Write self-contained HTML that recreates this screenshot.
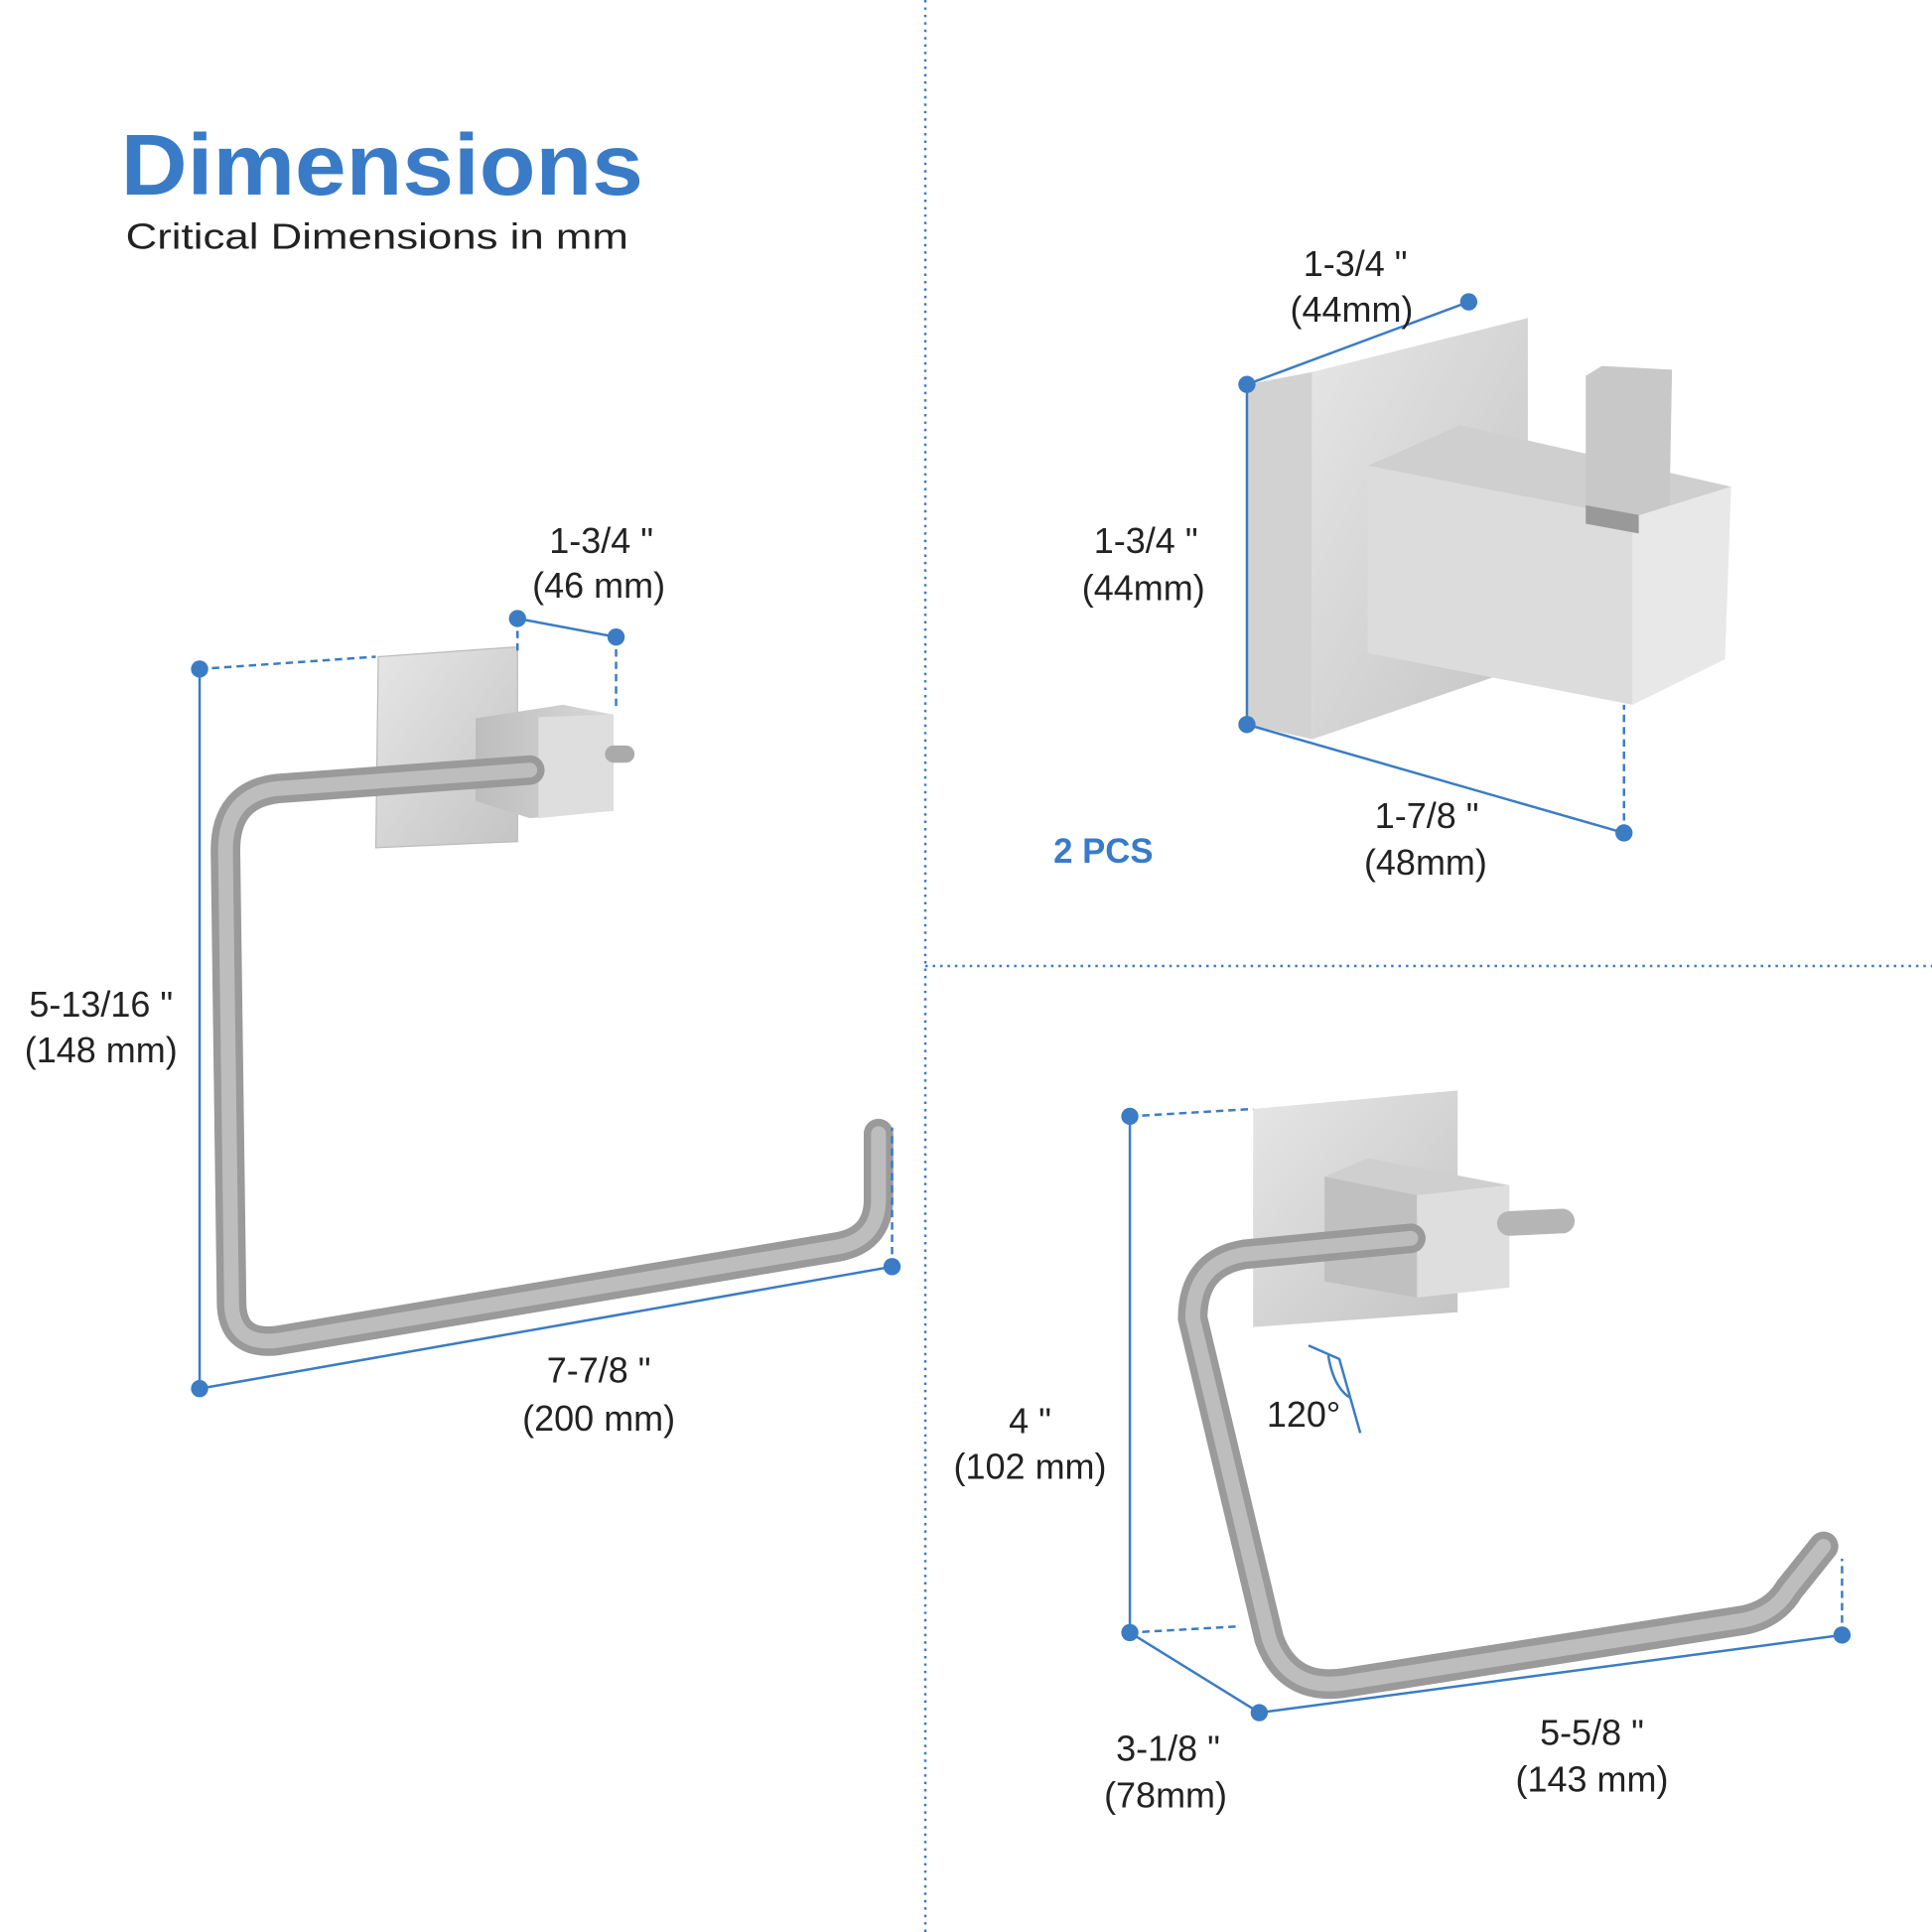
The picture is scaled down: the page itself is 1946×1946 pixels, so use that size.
<!DOCTYPE html>
<html><head><style>html,body{margin:0;padding:0;background:#fff}svg{display:block}</style></head>
<body>
<svg width="1946" height="1946" viewBox="0 0 1568 1568" xmlns="http://www.w3.org/2000/svg" font-family="Liberation Sans, sans-serif">
<defs>
<linearGradient id="m" x1="0" y1="0" x2="1" y2="1"><stop offset="0" stop-color="#e6e6e6"/><stop offset="1" stop-color="#c4c4c4"/></linearGradient>
<linearGradient id="d" x1="0" y1="0" x2="1" y2="0"><stop offset="0" stop-color="#bdbdbd"/><stop offset="1" stop-color="#d9d9d9"/></linearGradient>
</defs>
<rect width="1568" height="1568" fill="#fff"/>
<line x1="751" y1="0" x2="751" y2="1568" stroke="#3b7cc4" stroke-width="2" stroke-dasharray="2,4"/>
<line x1="751" y1="784" x2="1568" y2="784" stroke="#3b7cc4" stroke-width="2" stroke-dasharray="2,4"/>
<text x="98" y="158" font-size="70" font-weight="bold" fill="#3a7bc8" textLength="424" lengthAdjust="spacingAndGlyphs">Dimensions</text>
<text x="102" y="202" font-size="29" fill="#222" textLength="408" lengthAdjust="spacingAndGlyphs">Critical Dimensions in mm</text>

<!-- LEFT towel ring -->
<polygon points="307,533 420,525 420,683 305,688" fill="url(#m)" stroke="#bbb"/>
<polygon points="386,583 457,572 498,580 498,658 430,664 386,650" fill="url(#d)"/>
<polygon points="437,582 498,580 498,658 437,664" fill="#dedede"/>
<line x1="498" y1="612" x2="508" y2="612" stroke="#aaa" stroke-width="14" stroke-linecap="round"/>
<path d="M430,625 L225,640 Q183,645 183,690 L188,1060 Q190,1092 225,1088 L680,1012 Q712,1006 713,975 L713,920" fill="none" stroke="#9a9a9a" stroke-width="24" stroke-linecap="round"/>
<path d="M430,625 L225,640 Q183,645 183,690 L188,1060 Q190,1092 225,1088 L680,1012 Q712,1006 713,975 L713,920" fill="none" stroke="#bdbdbd" stroke-width="12" stroke-linecap="round"/>
<g stroke="#3b7cc4" stroke-width="2" fill="none">
<line x1="162" y1="543" x2="305" y2="533" stroke-dasharray="6,4"/>
<line x1="162" y1="543" x2="162" y2="1127"/>
<line x1="162" y1="1127" x2="724" y2="1028"/>
<line x1="724" y1="1028" x2="724" y2="915" stroke-dasharray="6,4"/>
<line x1="420" y1="502" x2="500" y2="517"/>
<line x1="500" y1="517" x2="500" y2="575" stroke-dasharray="6,4"/>
<line x1="420" y1="502" x2="420" y2="528" stroke-dasharray="6,4"/>
</g>
<g fill="#3b7cc4"><circle cx="162" cy="543" r="7"/><circle cx="162" cy="1127" r="7"/><circle cx="724" cy="1028" r="7"/><circle cx="420" cy="502" r="7"/><circle cx="500" cy="517" r="7"/></g>
<g font-size="29" fill="#222" text-anchor="middle">
<text x="488" y="449">1-3/4 "</text><text x="486" y="485">(46 mm)</text>
<text x="82" y="825">5-13/16 "</text><text x="82" y="862">(148 mm)</text>
<text x="486" y="1122">7-7/8 "</text><text x="486" y="1161">(200 mm)</text>
</g>

<!-- HOOK -->
<polygon points="1012,312 1065,302 1065,600 1012,588" fill="#d2d2d2"/>
<polygon points="1065,302 1240,258 1240,540 1065,600" fill="url(#m)"/>
<polygon points="1110,378 1185,345 1405,395 1325,420" fill="#cfcfcf"/>
<polygon points="1110,378 1325,420 1325,572 1110,530" fill="#dcdcdc"/>
<polygon points="1325,420 1405,395 1400,535 1325,572" fill="#e8e8e8"/>
<polygon points="1287,305 1300,297 1357,300 1355,410 1330,418 1287,410" fill="#c8c8c8"/>
<polygon points="1287,410 1330,418 1330,433 1287,425" fill="#999"/>
<g stroke="#3b7cc4" stroke-width="2" fill="none">
<line x1="1012" y1="312" x2="1192" y2="245"/>
<line x1="1012" y1="312" x2="1012" y2="588"/>
<line x1="1012" y1="588" x2="1318" y2="676"/>
<line x1="1318" y1="676" x2="1318" y2="572" stroke-dasharray="6,4"/>
</g>
<g fill="#3b7cc4"><circle cx="1012" cy="312" r="7"/><circle cx="1192" cy="245" r="7"/><circle cx="1012" cy="588" r="7"/><circle cx="1318" cy="676" r="7"/></g>
<g font-size="29" fill="#222" text-anchor="middle">
<text x="1100" y="224">1-3/4 "</text><text x="1097" y="261">(44mm)</text>
<text x="930" y="449">1-3/4 "</text><text x="928" y="487">(44mm)</text>
<text x="1158" y="672">1-7/8 "</text><text x="1157" y="710">(48mm)</text>
</g>
<text x="855" y="700" font-size="28" font-weight="bold" fill="#3a7bc8">2 PCS</text>

<!-- BOTTOM RIGHT -->
<polygon points="1017,900 1183,885 1183,1065 1017,1077" fill="url(#m)"/>
<polygon points="1075,955 1110,940 1225,962 1150,970" fill="#cfcfcf"/>
<polygon points="1075,955 1150,970 1150,1053 1075,1040" fill="#c0c0c0"/>
<polygon points="1150,970 1225,962 1225,1045 1150,1053" fill="#dedede"/>
<line x1="1225" y1="993" x2="1268" y2="991" stroke="#b5b5b5" stroke-width="20" stroke-linecap="round"/>
<path d="M1145,1005 L1010,1018 Q968,1025 968,1070 L1030,1330 Q1045,1372 1090,1366 L1415,1315 Q1440,1310 1452,1290 L1480,1255" fill="none" stroke="#9a9a9a" stroke-width="24" stroke-linecap="round"/>
<path d="M1145,1005 L1010,1018 Q968,1025 968,1070 L1030,1330 Q1045,1372 1090,1366 L1415,1315 Q1440,1310 1452,1290 L1480,1255" fill="none" stroke="#bdbdbd" stroke-width="12" stroke-linecap="round"/>
<g stroke="#3b7cc4" stroke-width="2" fill="none">
<line x1="917" y1="906" x2="1017" y2="900" stroke-dasharray="6,4"/>
<line x1="917" y1="906" x2="917" y2="1325"/>
<line x1="917" y1="1325" x2="1022" y2="1390"/>
<line x1="917" y1="1325" x2="1005" y2="1320" stroke-dasharray="6,4"/>
<line x1="1022" y1="1390" x2="1495" y2="1327"/>
<line x1="1495" y1="1327" x2="1495" y2="1265" stroke-dasharray="6,4"/>
<polyline points="1062,1092 1087,1103 1104,1163"/>
<path d="M1078,1100 Q1082,1125 1095,1134"/>
</g>
<g fill="#3b7cc4"><circle cx="917" cy="906" r="7"/><circle cx="917" cy="1325" r="7"/><circle cx="1022" cy="1390" r="7"/><circle cx="1495" cy="1327" r="7"/></g>
<g font-size="29" fill="#222" text-anchor="middle">
<text x="1058" y="1158">120°</text>
<text x="836" y="1163">4 "</text><text x="836" y="1200">(102 mm)</text>
<text x="948" y="1429">3-1/8 "</text><text x="946" y="1467">(78mm)</text>
<text x="1292" y="1416">5-5/8 "</text><text x="1292" y="1454">(143 mm)</text>
</g>
</svg>
</body></html>
